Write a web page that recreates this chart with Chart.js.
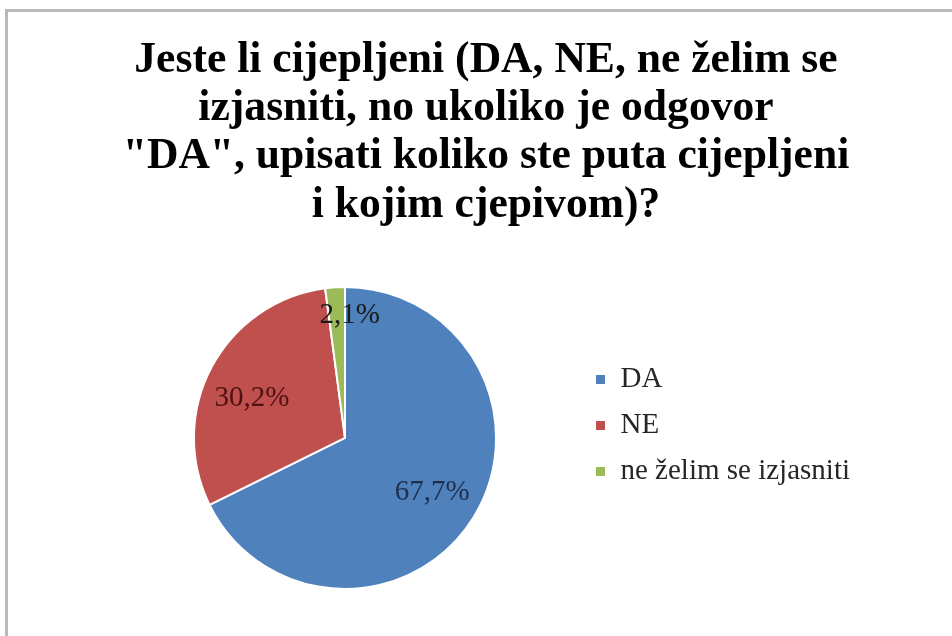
<!DOCTYPE html>
<html>
<head>
<meta charset="utf-8">
<script src="https://cdn.jsdelivr.net/npm/chart.js@4.4.1/dist/chart.umd.min.js"></script>
<style>
  html, body { margin: 0; padding: 0; background: #fff; }
  #wrap { width: 952px; height: 636px; }
</style>
</head>
<body>
<div id="wrap"><canvas id="pieChart" width="952" height="636"></canvas></div>
<script>
// Chart data
const titleLines = [
    'Jeste li cijepljeni (DA, NE, ne želim se',
    'izjasniti, no ukoliko je odgovor',
    '"DA", upisati koliko ste puta cijepljeni',
    'i kojim cjepivom)?'
];
const categories = ['DA', 'NE', 'ne želim se izjasniti'];
const shares = [67.7, 30.2, 2.1];
const shareLabels = ['67,7%', '30,2%', '2,1%'];
const sliceColors = ['#4F81BD', '#C0504D', '#9BBB59'];

const serif = "'Liberation Serif', 'Times New Roman', serif";

// frame around the whole chart (like the Excel chart border)
const framePlugin = {
    id: 'frame',
    beforeDraw(chart) {
        const ctx = chart.ctx;
        ctx.save();
        ctx.strokeStyle = '#b9b9b9';
        ctx.lineWidth = 3;
        ctx.strokeRect(6.5, 10.5, 1000, 700);
        ctx.restore();
    }
};

// percentage labels inside slices
const sliceLabelPlugin = {
    id: 'sliceLabels',
    afterDatasetsDraw(chart, args, opts) {
        const ctx = chart.ctx;
        const meta = chart.getDatasetMeta(0);
        ctx.save();
        ctx.font = opts.font;
        ctx.textAlign = 'center';
        ctx.textBaseline = 'middle';
        meta.data.forEach((arc, i) => {
            const p = arc.getProps(['x', 'y', 'startAngle', 'endAngle', 'outerRadius'], true);
            const a = (p.startAngle + p.endAngle) / 2 + opts.shift[i] * Math.PI / 180;
            const r = p.outerRadius * opts.dist[i];
            ctx.fillStyle = opts.colors[i];
            ctx.fillText(shareLabels[i], p.x + Math.cos(a) * r, p.y + Math.sin(a) * r);
        });
        ctx.restore();
    }
};

const ctx = document.getElementById('pieChart').getContext('2d');
const pieChart = new Chart(ctx, {
    type: 'pie',
    data: {
        labels: categories,
        datasets: [{
            data: shares,
            backgroundColor: sliceColors,
            borderColor: '#ffffff',
            borderWidth: 2,
            hoverOffset: 0
        }]
    },
    options: {
        responsive: false,
        animation: false,
        layout: {
            padding: { left: 112, right: 92, top: 0, bottom: 46 }
        },
        plugins: {
            title: {
                display: true,
                text: titleLines,
                color: '#000',
                font: { family: serif, size: 43.6, weight: 'bold', lineHeight: 1.112 },
                padding: { top: 36, bottom: 56 }
            },
            legend: {
                position: 'right',
                align: 'start',
                fullSize: false,
                maxWidth: 285,
                title: {
                    display: true,
                    text: '',
                    font: { size: 10, lineHeight: 1 },
                    padding: { top: 52, bottom: 0 }
                },
                labels: {
                    boxWidth: 11,
                    boxHeight: 11,
                    padding: 17,
                    color: '#262626',
                    font: { family: serif, size: 29 }
                }
            },
            tooltip: { enabled: false },
            sliceLabels: {
                font: '29px ' + serif,
                dist: [0.68, 0.67, 0.81],
                shift: [0, -5, 6],
                colors: ['#1e2f4d', '#4d1212', '#1a1a1a']
            }
        }
    },
    plugins: [framePlugin, sliceLabelPlugin]
});
</script>
</body>
</html>
